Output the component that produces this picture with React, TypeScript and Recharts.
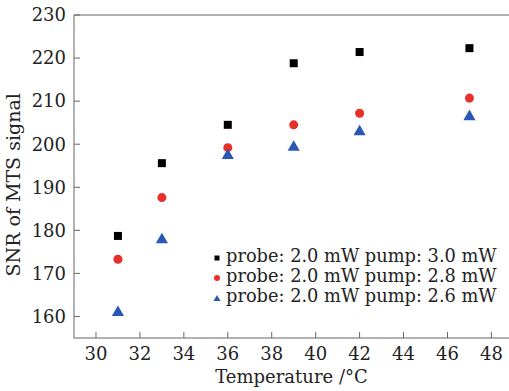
import React from "react";
import { ScatterChart, Scatter, XAxis, YAxis, ReferenceLine } from "recharts";

const temps = [31, 33, 36, 39, 42, 47];
const pump30 = [178.7, 195.6, 204.5, 218.8, 221.4, 222.3];
const pump28 = [173.3, 187.6, 199.2, 204.5, 207.2, 210.7];
const pump26 = [160.9, 177.8, 197.4, 199.3, 202.9, 206.4];
const xTicks = [30, 32, 34, 36, 38, 40, 42, 44, 46, 48];
const yTicks = [160, 170, 180, 190, 200, 210, 220, 230];

const seriesNames = [
    "probe: 2.0 mW pump: 3.0 mW",
    "probe: 2.0 mW pump: 2.8 mW",
    "probe: 2.0 mW pump: 2.6 mW",
];
const seriesColors = ["#000", "#e8302a", "#2a57b5"];

const toPoints = (vals: number[]) => temps.map((t, i) => ({ x: t, y: vals[i] }));

const FONT = "'DejaVu Serif', serif";
const AXIS = "#666";
const GAP = 8;

const XTick = (props: any) => {
    const { x, y, payload } = props;
    const axisY = y - GAP;
    return (
        <g>
            <line x1={x} x2={x} y1={axisY} y2={axisY - 6} stroke={AXIS} />
            <text x={x} y={y} dy="0.8em" textAnchor="middle" fill="#222" fontFamily={FONT} fontSize={18}>
                {payload.value}
            </text>
        </g>
    );
};

const YTick = (props: any) => {
    const { x, y, payload } = props;
    const axisX = x + GAP;
    return (
        <g>
            <line x1={axisX} x2={axisX + 6} y1={y} y2={y} stroke={AXIS} />
            <text x={x} y={y} dy="0.35em" textAnchor="end" fill="#222" fontFamily={FONT} fontSize={18}>
                {payload.value}
            </text>
        </g>
    );
};

const LegendBox = () => {
    const kinds = ["square", "circle", "triangle"];
    return (
        <div style={{ position: "absolute", left: 213, top: 246, fontFamily: FONT, fontSize: 17.8, color: "#222", lineHeight: "20px" }}>
            {seriesNames.map((name, i) => (
                <div key={name} style={{ display: "flex", alignItems: "center", whiteSpace: "nowrap" }}>
                    <svg width={8} height={8} style={{ marginRight: 5, marginTop: 3 }}>
                        {kinds[i] === "square" && <rect x={1.5} y={1.5} width={5} height={5} fill={seriesColors[i]} />}
                        {kinds[i] === "circle" && <circle cx={4} cy={4} r={3} fill={seriesColors[i]} />}
                        {kinds[i] === "triangle" && <polygon points="4,1 7.5,7 0.5,7" fill={seriesColors[i]} />}
                    </svg>
                    <span>{name}</span>
                </div>
            ))}
        </div>
    );
};

export default function App() {
    return (
        <div style={{ position: "absolute", left: 0, top: 0, width: 509, height: 391, background: "#fff" }}>
            <ScatterChart width={509} height={391} margin={{ top: 15, right: 0, bottom: 0, left: 0 }}>
                <XAxis
                    type="number"
                    dataKey="x"
                    domain={[29, 48.8]}
                    ticks={xTicks}
                    allowDataOverflow
                    height={53}
                    tickSize={0}
                    tickMargin={GAP}
                    tickLine={false}
                    stroke={AXIS}
                    tick={<XTick />}
                    label={{ value: "Temperature /°C", position: "insideBottom", offset: 8, fill: "#222", fontFamily: FONT, fontSize: 18 }}
                />
                <YAxis
                    type="number"
                    dataKey="y"
                    domain={[155, 230]}
                    ticks={yTicks}
                    allowDataOverflow
                    width={74}
                    tickSize={0}
                    tickMargin={GAP}
                    tickLine={false}
                    stroke={AXIS}
                    tick={<YTick />}
                    label={{ value: "SNR of MTS signal", angle: -90, position: "insideLeft", offset: 13, dy: 100, fill: "#222", fontFamily: FONT, fontSize: 19 }}
                />
                <ReferenceLine y={230} stroke={AXIS} />
                {seriesNames.map((name, i) => (
                    <Scatter
                        key={name}
                        name={name}
                        data={toPoints([pump30, pump28, pump26][i])}
                        fill={seriesColors[i]}
                        shape={(["square", "circle", "triangle"] as const)[i]}
                        isAnimationActive={false}
                    />
                ))}
            </ScatterChart>
            <LegendBox />
        </div>
    );
}
